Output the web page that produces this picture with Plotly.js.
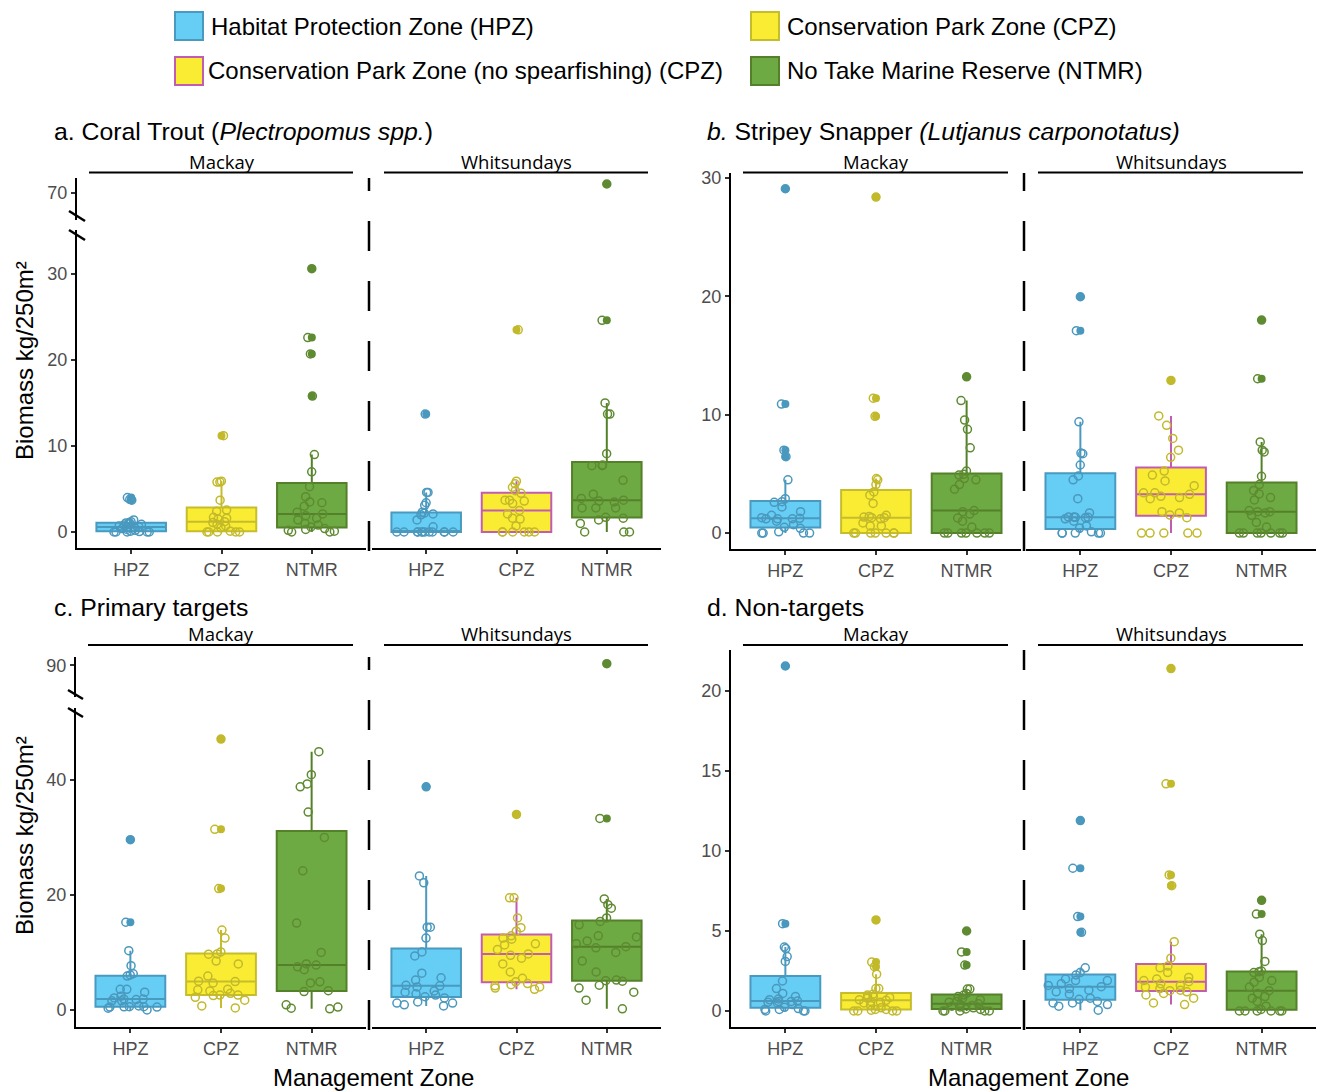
<!DOCTYPE html>
<html>
<head>
<meta charset="utf-8">
<script src="https://cdn.plot.ly/plotly-3.0.1.min.js"></script>
<style>html,body{margin:0;padding:0;background:#fff;}#chart{width:1318px;height:1092px;}</style>
</head>
<body>
<div id="chart"></div>
<script>
// ---------- DATA ----------
const zones = ['HPZ', 'CPZ', 'NTMR'];
const regions = ['Mackay', 'Whitsundays'];

// a. Coral Trout
const ct_mac_hpz  = [0,0,0,0,0,0.05,0.1,0.2,0.3,0.4,0.5,0.55,0.6,0.7,0.8,0.9,1.0,1.05,1.1,1.2,1.4,3.7,3.8,4.0];
const ct_mac_cpz  = [0,0,0,0,0,0.1,0.5,0.7,0.9,1.1,1.2,1.5,1.6,1.7,2.4,2.55,3.7,5.8,5.8,5.9,11.2];
const ct_mac_ntmr = [0,0,0.1,0.2,0.3,0.4,0.58,0.8,1.0,1.4,1.6,1.9,2.1,2.3,3.0,3.4,3.5,4.1,5.27,7.0,9.0,15.8,20.7,22.6,30.6];
const ct_whi_hpz  = [0,0,0,0,0,0,0,0,0,0,0,0,0.6,1.4,2.0,2.1,2.2,2.3,3.1,3.4,4.6,4.6,13.7];
const ct_whi_cpz  = [0,0,0,0,0,0,0.7,1.5,1.6,2.1,2.5,3.3,3.6,3.7,3.7,4.5,4.8,5.2,5.6,5.9,23.5];
const ct_whi_ntmr = [0,0,0,1.0,1.4,1.6,1.7,2.8,2.8,2.8,3.5,3.6,3.7,3.9,4.4,6.0,7.7,7.7,7.8,9.1,13.7,13.7,15.0,24.6,72];

// b. Stripey Snapper
const ss_mac_hpz  = [0,0,0,0,0.1,0.4,0.48,0.7,1.0,1.2,1.2,1.2,1.24,1.3,1.5,1.8,2.2,2.6,2.65,2.9,4.5,6.45,7.0,10.9,29.1];
const ss_mac_cpz  = [0,0,0,0,0,0,0,0.6,0.6,0.85,1.2,1.3,1.3,1.35,1.4,1.5,2.5,3.2,3.47,4.1,4.5,4.6,9.86,11.4,28.4];
const ss_mac_ntmr = [0,0,0,0,0,0,0,0.5,1.0,1.27,1.6,1.8,1.9,3.7,4.1,4.5,4.6,4.9,4.96,5.24,7.2,8.77,9.55,11.2,13.2];
const ss_whi_hpz  = [0,0,0,0,0,0.1,0.42,0.6,1.0,1.2,1.3,1.33,1.33,1.35,1.35,1.7,2.9,4.5,4.82,5.75,6.7,6.76,9.4,17.1,19.97];
const ss_whi_cpz  = [0,0,0,0,0,1.3,1.52,1.7,1.8,2.9,3.0,3.1,3.27,3.4,3.4,4.0,4.4,4.9,5.24,6.4,7.0,8.0,9.1,9.9,12.9];
const ss_whi_ntmr = [0,0,0,0,0,0,0,0.5,0.9,1.5,1.7,1.8,1.8,1.9,2.8,3.0,3.3,3.6,4.1,4.8,6.85,7.0,7.7,13.04,18.0];

// c. Primary targets
const pt_mac_hpz  = [0,0.3,0.5,0.5,0.55,0.57,0.58,0.7,1.6,1.6,1.8,1.9,1.9,2.1,2.4,3.1,3.6,3.6,5.9,6.1,6.3,7.7,10.3,15.25,29.6];
const pt_mac_cpz  = [0.35,0.7,1.7,2.2,2.5,2.6,2.6,2.9,3.3,3.5,3.6,4.7,4.93,5.0,5.9,8.0,8.5,9.7,9.74,10.1,12.5,13.9,21.1,31.4,47.1];
const pt_mac_ntmr = [0.2,0.3,0.5,0.9,3.2,3.36,4.7,4.9,7.0,7.5,7.8,8.0,10.0,15.1,24.2,30.0,34.4,38.8,39.3,40.9,44.9];
const pt_whi_hpz  = [0.7,0.9,1.2,1.2,1.4,2.1,2.3,2.6,2.8,3.1,3.3,4.0,4.2,4.3,5.2,5.6,6.4,9.4,10.1,12.5,14.4,14.4,22.1,23.3,38.8];
const pt_whi_cpz  = [3.6,3.8,4.0,4.2,4.4,4.6,4.9,5.5,6.6,8.0,9.0,9.5,9.74,10.5,11.3,11.5,12.3,12.5,12.9,13.7,14.3,16.0,19.5,19.5,34.0];
const pt_whi_ntmr = [0.2,1.7,3.1,3.8,4.3,5.0,5.1,5.2,6.6,8.5,10.0,10.8,11.0,11.5,12.0,12.7,12.9,14.8,15.4,16.0,17.7,18.3,19.3,33.3,90.5];

// d. Non-targets
const nt_mac_hpz  = [0,0,0,0.1,0.1,0.15,0.23,0.4,0.5,0.55,0.6,0.6,0.62,0.7,0.75,0.9,1.1,1.4,1.875,3.1,3.4,3.9,4.0,5.46,21.56];
const nt_mac_cpz  = [0,0,0,0,0.05,0.1,0.1,0.2,0.35,0.5,0.55,0.6,0.67,0.7,0.8,0.85,0.9,1.0,1.04,1.4,1.4,2.3,2.77,3.06,5.69];
const nt_mac_ntmr = [0,0,0,0,0,0.1,0.125,0.2,0.25,0.3,0.35,0.4,0.45,0.55,0.6,0.7,0.8,0.9,1.0,1.1,1.37,1.37,2.87,3.69,5.0];
const nt_whi_hpz  = [0.05,0.3,0.4,0.5,0.5,0.6,0.73,0.8,1.05,1.2,1.3,1.4,1.52,1.6,1.7,1.9,1.9,2.0,2.25,2.4,2.7,4.92,5.9,8.92,11.9];
const nt_whi_cpz  = [0.4,0.5,0.8,1.0,1.1,1.2,1.27,1.3,1.4,1.5,1.6,1.7,1.83,1.9,2.0,2.1,2.4,2.7,2.81,3.3,4.33,7.83,8.5,14.2,21.4];
const nt_whi_ntmr = [0,0,0,0,0,0,0.1,0.3,0.6,0.8,0.9,1.1,1.27,1.5,1.8,1.9,2.1,2.4,2.45,2.5,3.1,4.4,4.8,6.06,6.92];

// tick labels
const ticksA_lower = [0, 10, 20, 30];
const ticksA_upper = [70];
const ticksB = [0, 10, 20, 30];
const ticksC_lower = [0, 20, 40];
const ticksC_upper = [90];
const ticksD = [0, 5, 10, 15, 20];

const panelTitles = [
  'a. Coral Trout (<i>Plectropomus spp.</i>)',
  '<i>b.</i> Stripey Snapper <i>(Lutjanus carponotatus)</i>',
  'c. Primary targets',
  'd. Non-targets'
];
const legendLabels = [
  'Habitat Protection Zone (HPZ)',
  'Conservation Park Zone (CPZ)',
  'Conservation Park Zone (no spearfishing) (CPZ)',
  'No Take Marine Reserve (NTMR)'
];
const yTitle = 'Biomass kg/250m²';
const xTitle = 'Management Zone';

// ---------- STYLE ----------
const W = 1318, H = 1092;
const px = v => v / W;
const py = v => 1 - v / H;
const FONT = 'Liberation Sans, Arial, sans-serif';
const STRIPFONT = 'Open Sans, Liberation Sans, sans-serif';

const ST = {
  HPZ:   {fill: '#66CDF4', line: '#4A9AC0', pt: '#4A98BE'},
  CPZ:   {fill: '#FAEC33', line: '#C6BD2C', pt: '#C2B92B'},
  CPZns: {fill: '#FAEC33', line: '#C25CB3', pt: '#C2B92B'},
  NTMR:  {fill: '#6DAA43', line: '#55802A', pt: '#5E8B31'}
};

const traces = [];
function addGroup(vals, cat, xa, ya, st) {
  const xs = vals.map(() => cat);
  traces.push({
    type: 'box', x: xs, y: vals, xaxis: xa, yaxis: ya,
    boxpoints: 'outliers', pointpos: 0, jitter: 0,
    fillcolor: st.fill, line: {color: st.line, width: 2}, whiskerwidth: 0, width: 0.77,
    marker: {color: st.pt, size: 8, line: {width: 0}},
    showlegend: false, hoverinfo: 'y'
  });
  traces.push({
    type: 'box', x: xs, y: vals, xaxis: xa, yaxis: ya,
    boxpoints: 'all', pointpos: 0, jitter: 1,
    fillcolor: 'rgba(0,0,0,0)', line: {color: 'rgba(0,0,0,0)', width: 0}, whiskerwidth: 0, width: 0.77,
    marker: {color: st.pt, symbol: 'circle-open', size: 8, line: {width: 1.5, color: st.pt}},
    showlegend: false, hoverinfo: 'y'
  });
}

const panels = [
  {xs: ['x', 'x2'], ys: ['y', 'y2'], data: [[ct_mac_hpz, ct_mac_cpz, ct_mac_ntmr], [ct_whi_hpz, ct_whi_cpz, ct_whi_ntmr]]},
  {xs: ['x3', 'x4'], ys: ['y3'],     data: [[ss_mac_hpz, ss_mac_cpz, ss_mac_ntmr], [ss_whi_hpz, ss_whi_cpz, ss_whi_ntmr]]},
  {xs: ['x5', 'x6'], ys: ['y4', 'y5'], data: [[pt_mac_hpz, pt_mac_cpz, pt_mac_ntmr], [pt_whi_hpz, pt_whi_cpz, pt_whi_ntmr]]},
  {xs: ['x7', 'x8'], ys: ['y6'],     data: [[nt_mac_hpz, nt_mac_cpz, nt_mac_ntmr], [nt_whi_hpz, nt_whi_cpz, nt_whi_ntmr]]}
];
panels.forEach(p => {
  p.ys.forEach(ya => {
    p.data.forEach((reg, ri) => {
      reg.forEach((vals, zi) => {
        const cat = zones[zi];
        let st = cat === 'HPZ' ? ST.HPZ : cat === 'NTMR' ? ST.NTMR : (ri === 1 ? ST.CPZns : ST.CPZ);
        addGroup(vals, cat, p.xs[ri], ya, st);
      });
    });
  });
});

// ---------- AXES ----------
function xAxis(d0, d1, anchor) {
  return {
    domain: [px(d0), px(d1)], anchor: anchor, type: 'category',
    categoryorder: 'array', categoryarray: zones, range: [-0.6, 2.6],
    showline: true, linecolor: '#000', linewidth: 2,
    ticks: 'outside', ticklen: 4, tickwidth: 2, tickcolor: '#333',
    tickfont: {family: FONT, size: 18, color: '#4D4D4D'},
    showgrid: false, zeroline: false, fixedrange: true
  };
}
function yAxis(top, bottom, anchor, range, tv) {
  return {
    domain: [py(bottom), py(top)], anchor: anchor, range: range,
    tickmode: 'array', tickvals: tv, ticktext: tv.map(String),
    showline: true, linecolor: '#000', linewidth: 2,
    ticks: 'outside', ticklen: 4, tickwidth: 2, tickcolor: '#333',
    tickfont: {family: FONT, size: 18, color: '#4D4D4D'},
    showgrid: false, zeroline: false, fixedrange: true
  };
}

const layout = {
  width: W, height: H, margin: {l: 0, r: 0, t: 0, b: 0},
  paper_bgcolor: '#fff', plot_bgcolor: 'rgba(0,0,0,0)',
  showlegend: false, boxmode: 'overlay',
  xaxis:  xAxis(77, 366, 'y'),
  xaxis2: xAxis(372, 661, 'y'),
  xaxis3: xAxis(731, 1021, 'y3'),
  xaxis4: xAxis(1026, 1316, 'y3'),
  xaxis5: xAxis(76, 366, 'y4'),
  xaxis6: xAxis(372, 661, 'y4'),
  xaxis7: xAxis(731, 1021, 'y6'),
  xaxis8: xAxis(1026, 1316, 'y6'),
  yaxis:  yAxis(230, 548, 'x', [-1.86, 35.1], ticksA_lower),
  yaxis2: yAxis(178, 220, 'x', [64, 73.33], ticksA_upper),
  yaxis3: yAxis(173, 549, 'x3', [-1.35, 30.43], ticksB),
  yaxis4: yAxis(708, 1027, 'x5', [-2.96, 52.5], ticksC_lower),
  yaxis5: yAxis(657, 697, 'x5', [81, 92.4], ticksC_upper),
  yaxis6: yAxis(650, 1027, 'x7', [-1.0, 22.56], ticksD),
  shapes: [], annotations: []
};

function line(x0, y0, x1, y1, w, dash) {
  layout.shapes.push({type: 'line', xref: 'paper', yref: 'paper',
    x0: px(x0), y0: py(y0), x1: px(x1), y1: py(y1),
    line: {color: '#000', width: w, dash: dash || 'solid'}});
}
function text(t, x, y, size, opts) {
  layout.annotations.push(Object.assign({
    text: t, xref: 'paper', yref: 'paper', x: px(x), y: py(y),
    xanchor: 'left', yanchor: 'middle', showarrow: false,
    font: {family: FONT, size: size, color: '#000'}
  }, opts || {}));
}

// facet separators (dashed)
line(369, 551, 369, 178, 2.5, '30px,30px');
line(1024, 551, 1024, 173, 2.5, '30px,30px');
line(369, 1030, 369, 657, 2.5, '30px,30px');
line(1024, 1030, 1024, 650, 2.5, '30px,30px');

// axis break marks
line(69, 211, 85, 221, 2.5); line(69, 230, 85, 240, 2.5);
line(68, 690, 83, 699, 2.5); line(68, 708, 83, 717, 2.5);

// strips
const strips = [
  {y: 161, ly: 172.5, facets: [[77, 366], [372, 661]]},
  {y: 161, ly: 172.5, facets: [[731, 1021], [1026, 1316]]},
  {y: 633, ly: 645, facets: [[76, 366], [372, 661]]},
  {y: 633, ly: 645, facets: [[731, 1021], [1026, 1316]]}
];
strips.forEach(s => {
  s.facets.forEach((f, i) => {
    line(f[0] + 12, s.ly, f[1] - 13, s.ly, 2);
    text(regions[i], (f[0] + f[1]) / 2, s.y, 18.5,
      {xanchor: 'center', font: {family: STRIPFONT, size: 18.5, color: '#000'}});
  });
});

// panel titles
text(panelTitles[0], 52, 131, 24.8);
text(panelTitles[1], 705, 131, 24.8);
text(panelTitles[2], 52, 607, 24.8);
text(panelTitles[3], 705, 607, 24.8);

// axis titles
text(yTitle, 25, 361, 24, {xanchor: 'center', textangle: -90});
text(yTitle, 25, 836, 24, {xanchor: 'center', textangle: -90});
text(xTitle, 373, 1077, 24, {xanchor: 'center'});
text(xTitle, 1028, 1077, 24, {xanchor: 'center'});

// legend
const legendItems = [
  {st: ST.HPZ,   x: 175, y: 26, tx: 209},
  {st: ST.CPZ,   x: 751, y: 26, tx: 785},
  {st: ST.CPZns, x: 175, y: 71, tx: 206},
  {st: ST.NTMR,  x: 751, y: 71, tx: 785}
];
legendItems.forEach((it, i) => {
  layout.shapes.push({type: 'rect', xref: 'paper', yref: 'paper',
    x0: px(it.x), x1: px(it.x + 28), y0: py(it.y + 14), y1: py(it.y - 14),
    fillcolor: it.st.fill, line: {color: it.st.line, width: 2}});
  text(legendLabels[i], it.tx, it.y, 24);
});

Plotly.newPlot('chart', traces, layout, {staticPlot: true, displayModeBar: false});
</script>
</body>
</html>
